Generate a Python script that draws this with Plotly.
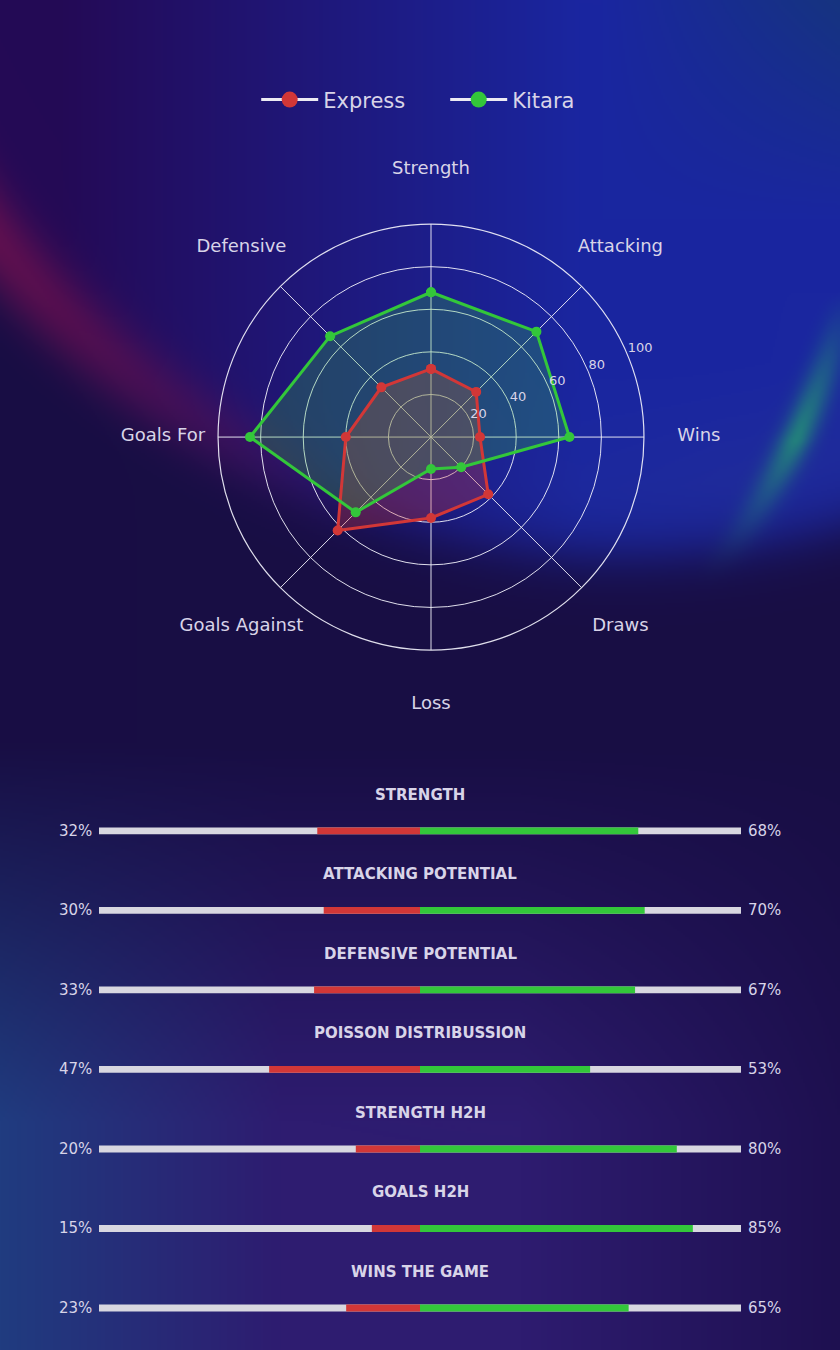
import base64
import struct
import zlib

import numpy as np
import plotly.graph_objects as go

# ---- data ----
categories = ["Strength", "Attacking", "Wins", "Draws", "Loss",
              "Goals Against", "Goals For", "Defensive"]
express_radar = [32, 30, 23, 38, 38, 62, 40, 33]
kitara_radar = [68, 70, 65, 20, 15, 50, 85, 67]
radial_ticks = [20, 40, 60, 80, 100]

metrics = ["STRENGTH", "ATTACKING POTENTIAL", "DEFENSIVE POTENTIAL",
           "POISSON DISTRIBUSSION", "STRENGTH H2H", "GOALS H2H", "WINS THE GAME"]
express_pct = [32, 30, 33, 47, 20, 15, 23]
kitara_pct = [68, 70, 67, 53, 80, 85, 65]

teams = ["Express", "Kitara"]

RED = "#d23737"
GREEN = "#33c73a"
BAR_GREY = "#d8d7e0"
TXT = "#d8d4e8"
GRID = "rgba(240,240,250,0.92)"
FONT = "DejaVu Sans"


# ---- decorative background (generated png) ----
def background_png(w=420, h=675, scale=2.0):
    ys, xs = np.mgrid[0:h, 0:w].astype(float)
    X = xs * scale
    Y = ys * scale
    img = np.zeros((h, w, 3))
    img[:] = np.array([24, 14, 68.0])

    # bottom part of the page
    wy = np.clip((Y - 740) / 380, 0, 1)[..., None]
    lx = np.clip(1 - X / 280, 0, 1)[..., None]
    rx = np.clip((X - 520) / 320, 0, 1)[..., None]
    bottom = np.array([32, 60, 128.0]) * lx + np.array([46, 28, 112.0]) * (1 - lx)
    bottom = bottom * (1 - rx) + np.array([30, 16, 80.0]) * rx
    img = img * (1 - wy) + bottom * wy

    # big blue glow in the upper part
    d = np.hypot(X - 620, Y + 262)
    inside = (1 / (1 + np.exp(-(817 - d) / 16)))[..., None]
    tx = np.clip((X - 60) / 520, 0, 1)[..., None]
    upper = np.array([36, 10, 86.0]) * (1 - tx) + np.array([26, 38, 160.0]) * tx
    ty = np.clip((220 - Y) / 220, 0, 1)[..., None] * np.clip((X - 600) / 240, 0, 1)[..., None]
    upper = upper * (1 - ty) + np.array([22, 52, 128.0]) * ty
    edge = np.clip(1 - np.abs(d - 750) / 110, 0, 1)[..., None] * np.clip((X - 420) / 300, 0, 1)[..., None]
    upper = upper * (1 - 0.2 * edge) + np.array([50, 62, 140.0]) * 0.2 * edge
    img = img * (1 - inside) + upper * inside

    # red streak on the left
    band = np.exp(-((d - 800) / 36) ** 2) * np.clip(1 - X / 380, 0, 1)
    img = img * (1 - 0.65 * band[..., None]) + np.array([125, 18, 78.0]) * 0.65 * band[..., None]

    # teal streak on the right
    d2 = np.hypot(X - 200, Y - 150)
    tband = np.exp(-((d2 - 660) / 16) ** 2) * np.clip((X - 690) / 110, 0, 1) \
        * np.clip(1 - np.abs(Y - 440) / 150, 0, 1)
    img = img * (1 - 0.8 * tband[..., None]) + np.array([36, 155, 115.0]) * 0.8 * tband[..., None]

    rgb = np.clip(img, 0, 255).astype(np.uint8)
    raw = b"".join(b"\x00" + rgb[i].tobytes() for i in range(h))

    def chunk(tag, data):
        c = struct.pack(">I", len(data)) + tag + data
        return c + struct.pack(">I", zlib.crc32(tag + data) & 0xFFFFFFFF)

    png = (b"\x89PNG\r\n\x1a\n"
           + chunk(b"IHDR", struct.pack(">IIBBBBB", w, h, 8, 2, 0, 0, 0))
           + chunk(b"IDAT", zlib.compress(raw, 9))
           + chunk(b"IEND", b""))
    return "data:image/png;base64," + base64.b64encode(png).decode()


fig = go.Figure()

series = [
    (teams[0], express_radar, RED, "rgba(210,55,55,0.3)"),
    (teams[1], kitara_radar, GREEN, "rgba(51,199,58,0.25)"),
]

# ---- radar: fills first, then lines on top ----
for name, vals, col, fillc in series:
    fig.add_trace(go.Scatterpolar(
        r=vals + vals[:1], theta=categories + categories[:1],
        mode="lines", fill="toself", fillcolor=fillc, line=dict(width=0),
        showlegend=False, hoverinfo="skip",
    ))
for name, vals, col, fillc in series:
    fig.add_trace(go.Scatterpolar(
        r=vals + vals[:1], theta=categories + categories[:1],
        mode="lines+markers", line=dict(color=col, width=3),
        marker=dict(color=col, size=10), name=name, showlegend=False,
    ))
    # legend entry (white line, coloured dot)
    fig.add_trace(go.Scatterpolar(
        r=[None], theta=[categories[0]], mode="lines+markers", name=name,
        line=dict(color="#ecebf3", width=3), marker=dict(color=col, size=16),
    ))

# category labels on a wider, invisible polar
fig.add_trace(go.Scatterpolar(
    r=[100] * len(categories), theta=categories, mode="text", text=categories,
    textposition="middle center", textfont=dict(size=18, color=TXT, family=FONT),
    cliponaxis=False, showlegend=False, hoverinfo="skip", subplot="polar2",
))
# radial tick labels, kept horizontal, along the 22.5 degree direction
fig.add_trace(go.Scatterpolar(
    r=radial_ticks, theta=[22.5] * len(radial_ticks), mode="text",
    text=[str(t) for t in radial_ticks], textposition="top right",
    textfont=dict(size=13, color=TXT, family=FONT),
    cliponaxis=False, showlegend=False, hoverinfo="skip", subplot="polar3",
))

# ---- comparison bars ----
rows = list(range(len(metrics)))
for xs, bases, col in [
    ([200] * len(rows), [-100] * len(rows), BAR_GREY),
    (express_pct, [-v for v in express_pct], RED),
    (kitara_pct, [0] * len(rows), GREEN),
]:
    fig.add_trace(go.Bar(
        y=rows, x=xs, base=bases, orientation="h", width=0.085,
        marker=dict(color=col, line=dict(width=0)),
        xaxis="x", yaxis="y", showlegend=False, hoverinfo="skip",
    ))

for i, m in enumerate(metrics):
    fig.add_annotation(x=0, y=i, xref="x", yref="y", yshift=36, text=f"<b>{m}</b>",
                       showarrow=False, font=dict(size=15, color=TXT, family=FONT))
    fig.add_annotation(x=-100, y=i, xref="x", yref="y", xanchor="right", xshift=-5,
                       text=f"{express_pct[i]}%", showarrow=False,
                       font=dict(size=15, color=TXT, family=FONT))
    fig.add_annotation(x=100, y=i, xref="x", yref="y", xanchor="left", xshift=5,
                       text=f"{kitara_pct[i]}%", showarrow=False,
                       font=dict(size=15, color=TXT, family=FONT))

hidden_axis = dict(visible=False, showgrid=False, showline=False, showticklabels=False, ticks="")
radar_domain = dict(x=[0.2595, 0.7667], y=[0.5185, 0.834])

fig.update_layout(
    width=840, height=1350,
    margin=dict(l=0, r=0, t=0, b=0),
    paper_bgcolor="#180e44", plot_bgcolor="rgba(0,0,0,0)",
    font=dict(family=FONT, color=TXT),
    barmode="overlay",
    legend=dict(orientation="h", x=0.53, xanchor="center", y=0.926, yanchor="middle",
                font=dict(size=21, color=TXT, family=FONT), bgcolor="rgba(0,0,0,0)",
                itemwidth=57, entrywidth=117),
    polar=dict(
        domain=radar_domain,
        bgcolor="rgba(0,0,0,0)",
        angularaxis=dict(rotation=90, direction="clockwise", showticklabels=False,
                         ticks="", gridcolor=GRID, gridwidth=1.2,
                         linecolor=GRID, linewidth=1.2),
        radialaxis=dict(range=[0, 100], tickvals=radial_ticks, showticklabels=False,
                        showline=False, ticks="", gridcolor=GRID, gridwidth=1.2),
    ),
    polar2=dict(
        domain=dict(x=[0.194, 0.832], y=[0.4778, 0.8748]),
        bgcolor="rgba(0,0,0,0)",
        angularaxis=dict(rotation=90, direction="clockwise", **hidden_axis),
        radialaxis=dict(range=[0, 100], **hidden_axis),
    ),
    polar3=dict(
        domain=radar_domain,
        bgcolor="rgba(0,0,0,0)",
        angularaxis=dict(rotation=0, direction="counterclockwise", **hidden_axis),
        radialaxis=dict(range=[0, 100], **hidden_axis),
    ),
    xaxis=dict(domain=[99 / 840, 741 / 840], range=[-100, 100], visible=False,
               fixedrange=True),
    yaxis=dict(domain=[0.00167, 0.4139], range=[6.5, -0.5], visible=False,
               fixedrange=True),
    images=[dict(source=background_png(), xref="paper", yref="paper", x=0, y=1,
                 sizex=1, sizey=1, xanchor="left", yanchor="top",
                 sizing="stretch", layer="below")],
)

fig.write_html("out.html", config={"displayModeBar": False},
               post_script="document.body.style.margin='0';")
